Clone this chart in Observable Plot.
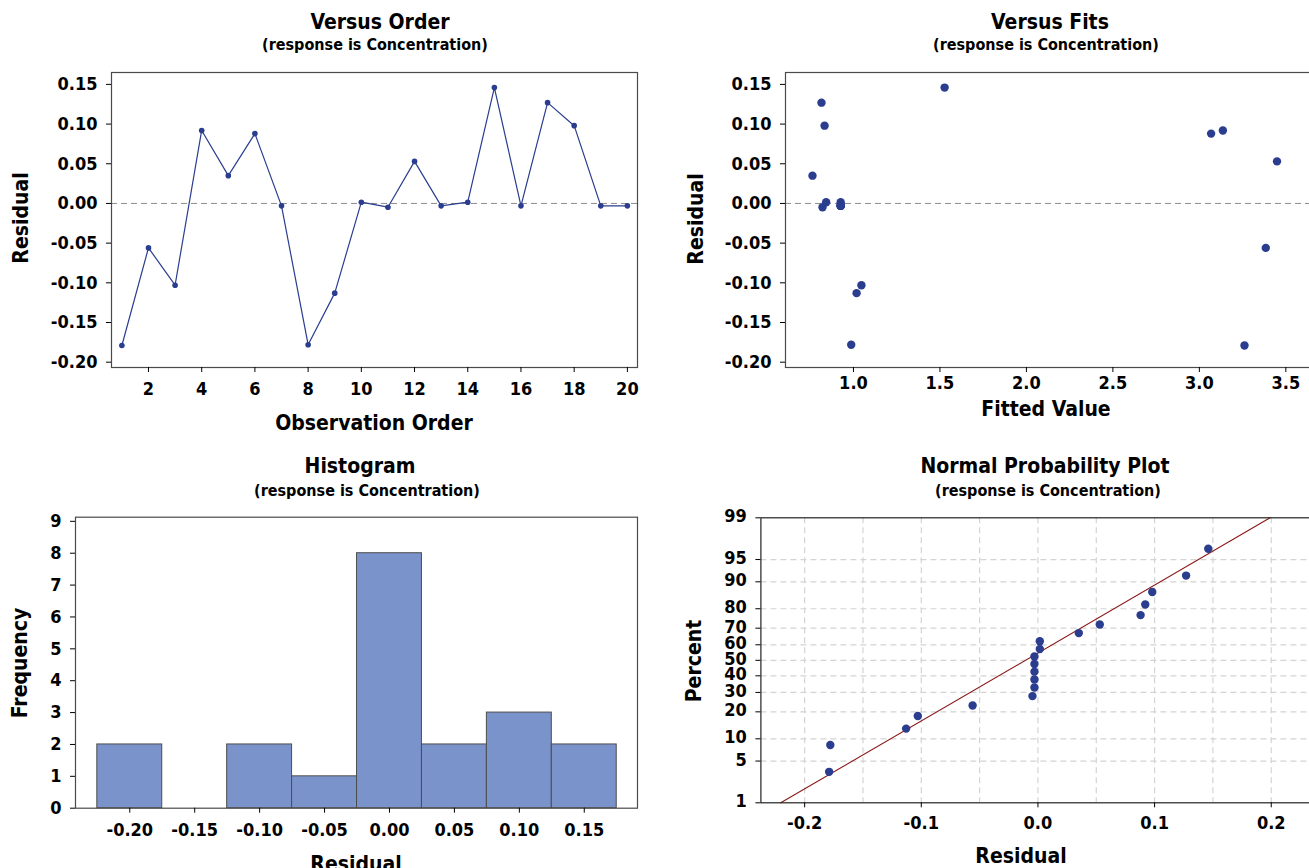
<!DOCTYPE html>
<html>
<head>
<meta charset="utf-8">
<script src="https://cdn.jsdelivr.net/npm/d3@7"></script>
<script src="https://cdn.jsdelivr.net/npm/@observablehq/plot@0.6"></script>
<style>
  html, body { margin: 0; padding: 0; background: #fff; }
  #root { position: relative; width: 1309px; height: 868px; overflow: hidden; background: #fff;
          font-family: "DejaVu Sans Condensed", "DejaVu Sans", sans-serif; font-stretch: condensed; font-weight: bold; color: #000; }
  .lbl { position: absolute; white-space: nowrap; line-height: 1; transform: translate(-50%, -50%); }
  .rot { transform: translate(-50%, -50%) rotate(-90deg); }
  .title { font-size: 21px; }
  .sub { font-size: 16px; }
  .axl { font-size: 21px; }
  .plot { position: absolute; }
</style>
</head>
<body>
<div id="root"></div>
<script>
// ---------- data ----------
const observationOrder = [1,2,3,4,5,6,7,8,9,10,11,12,13,14,15,16,17,18,19,20];
const residuals = [-0.179,-0.056,-0.103,0.092,0.035,0.088,-0.003,-0.178,-0.113,0.0016,
                   -0.0047,0.053,-0.003,0.0016,0.146,-0.003,0.127,0.098,-0.003,-0.003];
const fittedValues = [3.261,3.384,1.046,3.136,0.763,3.068,0.925,0.987,1.018,0.842,
                      0.821,3.449,0.927,0.926,1.527,0.927,0.815,0.833,0.926,0.927];
const residualTicks = [-0.20,-0.15,-0.10,-0.05,0.00,0.05,0.10,0.15];
const orderTicks = [2,4,6,8,10,12,14,16,18,20];
const fitTicks = [1.0,1.5,2.0,2.5,3.0,3.5];
const histThresholds = [-0.225,-0.175,-0.125,-0.075,-0.025,0.025,0.075,0.125,0.175];
const histXTicks = [-0.20,-0.15,-0.10,-0.05,0.00,0.05,0.10,0.15];
const freqTicks = [0,1,2,3,4,5,6,7,8,9];
const percentTicks = [1,5,10,20,30,40,50,60,70,80,90,95,99];
const probXTicks = [-0.2,-0.1,0.0,0.1,0.2];
const probXGrid = [-0.2,-0.15,-0.1,-0.05,0,0.05,0.1,0.15,0.2];
const fitLineResidual = [-0.2205, 0.1990];
const fitLinePercent = [1, 99];

// ---------- helpers ----------
// inverse standard normal CDF (Acklam)
function probit(p) {
  const a=[-3.969683028665376e+01,2.209460984245205e+02,-2.759285104469687e+02,1.383577518672690e+02,-3.066479806614716e+01,2.506628277459239e+00];
  const b=[-5.447609879822406e+01,1.615858368580409e+02,-1.556989798598866e+02,6.680131188771972e+01,-1.328068155288572e+01];
  const c=[-7.784894002430293e-03,-3.223964580411365e-01,-2.400758277161838e+00,-2.549732539343734e+00,4.374664141464968e+00,2.938163982698783e+00];
  const d=[7.784695709041462e-03,3.224671290700398e-01,2.445134137142996e+00,3.754408661907416e+00];
  const pl=0.02425, ph=1-pl;
  let q, r;
  if (p < pl) { q=Math.sqrt(-2*Math.log(p)); return (((((c[0]*q+c[1])*q+c[2])*q+c[3])*q+c[4])*q+c[5])/((((d[0]*q+d[1])*q+d[2])*q+d[3])*q+1); }
  if (p <= ph) { q=p-0.5; r=q*q; return (((((a[0]*r+a[1])*r+a[2])*r+a[3])*r+a[4])*r+a[5])*q/(((((b[0]*r+b[1])*r+b[2])*r+b[3])*r+b[4])*r+1); }
  q=Math.sqrt(-2*Math.log(1-p)); return -(((((c[0]*q+c[1])*q+c[2])*q+c[3])*q+c[4])*q+c[5])/((((d[0]*q+d[1])*q+d[2])*q+d[3])*q+1);
}
const fmt2 = d => d.toFixed(2);
const fmt1 = d => d.toFixed(1);

const rows = observationOrder.map((o, i) => ({order: o, residual: residuals[i], fit: fittedValues[i]}));
// normal probability positions (median ranks, as Minitab)
const sorted = residuals.slice().sort((a, b) => a - b);
const n = sorted.length;
const probRows = sorted.map((r, i) => ({residual: r, z: probit((i + 1 - 0.3) / (n + 0.4))}));
const lineRows = fitLineResidual.map((r, i) => ({residual: r, z: probit(fitLinePercent[i] / 100)}));
const zTicks = percentTicks.map(p => probit(p / 100));
const zLabel = new Map(zTicks.map((z, i) => [z, String(percentTicks[i])]));

const FONT = '"DejaVu Sans Condensed", "DejaVu Sans", sans-serif';
const baseStyle = {fontFamily: FONT, fontSize: "18px", fontWeight: "bold", fontStretch: "condensed", background: "transparent", overflow: "visible", color: "#000"};
const blue = "#2a3d8f";
const frameColor = "#4a4a4a";

const root = document.getElementById("root");
function place(el, left, top) { el.classList.add("plot"); el.style.left = left + "px"; el.style.top = top + "px"; root.appendChild(el); }
function label(text, cls, x, y) { const d = document.createElement("div"); d.className = "lbl " + cls; d.textContent = text; d.style.left = x + "px"; d.style.top = y + "px"; root.appendChild(d); }

// ---------- Versus Order ----------
const p1 = Plot.plot({
  width: 650, height: 360, marginLeft: 111, marginRight: 13, marginTop: 12, marginBottom: 53,
  style: baseStyle,
  x: {domain: [0.61, 20.38]},
  y: {domain: [-0.2067, 0.165]},
  marks: [
    Plot.ruleY([0], {stroke: "#8c8c8c", strokeDasharray: "6,4", strokeWidth: 1}),
    Plot.line(rows, {x: "order", y: "residual", stroke: blue, strokeWidth: 1.2}),
    Plot.dot(rows, {x: "order", y: "residual", r: 2.8, fill: blue}),
    Plot.frame({stroke: frameColor, strokeWidth: 1.2}),
    Plot.axisX({ticks: orderTicks, tickFormat: d => String(d), tickSize: 5, tickPadding: 10, label: null, stroke: "#000"}),
    Plot.axisY({ticks: residualTicks, tickFormat: fmt2, tickSize: 5, tickPadding: 9, label: null, stroke: "#000"})
  ]
});
place(p1, 0, 60);

// ---------- Versus Fits ----------
const p2 = Plot.plot({
  width: 660, height: 360, marginLeft: 125, marginRight: 7, marginTop: 12, marginBottom: 53,
  style: baseStyle,
  x: {domain: [0.607, 3.66]},
  y: {domain: [-0.2067, 0.165]},
  marks: [
    Plot.ruleY([0], {stroke: "#8c8c8c", strokeDasharray: "6,4", strokeWidth: 1}),
    Plot.dot(rows, {x: "fit", y: "residual", r: 4.2, fill: blue}),
    Plot.frame({stroke: frameColor, strokeWidth: 1.2}),
    Plot.axisX({ticks: fitTicks, tickFormat: fmt1, tickSize: 5, tickPadding: 4, label: null, stroke: "#000"}),
    Plot.axisY({ticks: residualTicks, tickFormat: fmt2, tickSize: 5, tickPadding: 9, label: null, stroke: "#000"})
  ]
});
place(p2, 660, 60);

// ---------- Histogram ----------
const p3 = Plot.plot({
  width: 650, height: 360, marginLeft: 75, marginRight: 13, marginTop: 16.7, marginBottom: 52.3,
  style: baseStyle,
  x: {domain: [-0.2418, 0.191]},
  y: {domain: [0, 9.13]},
  marks: [
    Plot.rectY(rows, Plot.binX({y: "count"}, {x: "residual", thresholds: histThresholds, fill: "#7b93cb", stroke: "#4d4d4d", strokeWidth: 1, inset: 0})),
    Plot.frame({stroke: frameColor, strokeWidth: 1.2}),
    Plot.axisX({ticks: histXTicks, tickFormat: fmt2, tickSize: 5, tickPadding: 10, label: null, stroke: "#000"}),
    Plot.axisY({ticks: freqTicks, tickFormat: d => String(d), tickSize: 5, tickPadding: 9, label: null, stroke: "#000"})
  ]
});
place(p3, 0, 500);

// ---------- Normal Probability Plot ----------
const p4 = Plot.plot({
  width: 690, height: 360, marginLeft: 120.4, marginRight: 0, marginTop: 17.3, marginBottom: 57.7,
  style: baseStyle,
  x: {domain: [-0.2375, 0.2508]},
  y: {domain: [probit(0.01), probit(0.99)]},
  marks: [
    Plot.ruleX(probXGrid, {stroke: "#d4d4d4", strokeDasharray: "6,4", strokeWidth: 1.2}),
    Plot.ruleY(zTicks.slice(1, -1), {stroke: "#d4d4d4", strokeDasharray: "6,4", strokeWidth: 1.2}),
    Plot.line(lineRows, {x: "residual", y: "z", stroke: "#8b1a1a", strokeWidth: 1.1}),
    Plot.dot(probRows, {x: "residual", y: "z", r: 4.2, fill: blue}),
    Plot.frame({stroke: "#222", strokeWidth: 1.2}),
    Plot.axisX({ticks: probXTicks, tickFormat: fmt1, tickSize: 5, tickPadding: 8, label: null, stroke: "#000"}),
    Plot.axisY({ticks: zTicks, tickFormat: z => zLabel.get(z), tickSize: 5, tickPadding: 9, label: null, stroke: "#000", lineHeight: 0.8})
  ]
});
place(p4, 640, 500);

// ---------- titles & axis labels ----------
label("Versus Order", "title", 380, 22);
label("(response is Concentration)", "sub", 375, 45);
label("Versus Fits", "title", 1050, 22);
label("(response is Concentration)", "sub", 1046, 45);
label("Histogram", "title", 360, 466);
label("(response is Concentration)", "sub", 367, 491);
label("Normal Probability Plot", "title", 1045, 466);
label("(response is Concentration)", "sub", 1048, 491);

label("Observation Order", "axl", 374, 423);
label("Residual", "axl rot", 21, 218);
label("Fitted Value", "axl", 1046, 409);
label("Residual", "axl rot", 696, 219);
label("Frequency", "axl rot", 20, 663);
label("Residual", "axl", 356, 864);
label("Percent", "axl rot", 694, 661);
label("Residual", "axl", 1021, 856);
</script>
</body>
</html>
